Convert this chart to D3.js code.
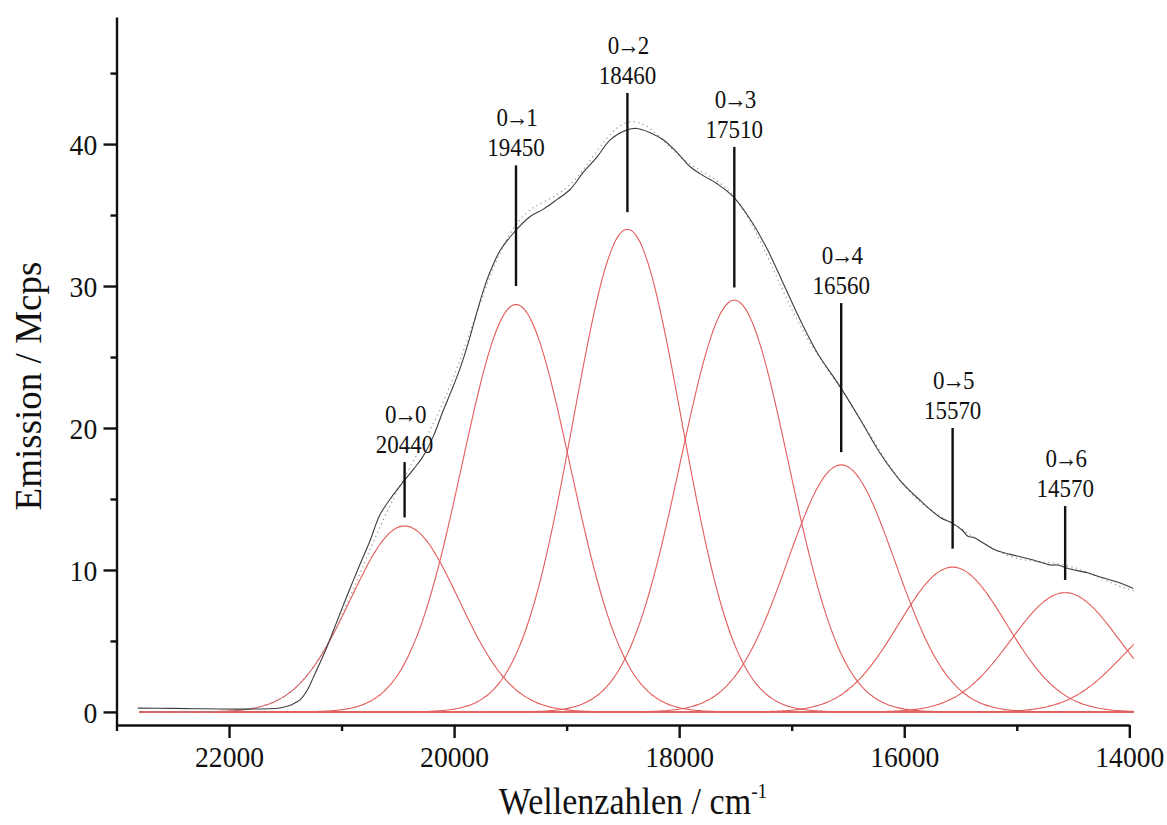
<!DOCTYPE html>
<html><head><meta charset="utf-8">
<script src="https://cdn.jsdelivr.net/npm/d3@7"></script>
<style>
html,body{margin:0;padding:0;background:#fff;}
svg{display:block;font-family:"Liberation Serif","Times New Roman",serif;}
</style></head>
<body><svg id="chart" width="1167" height="825"></svg>
<script>
// ---- data ----
const peakCenters = [20440, 19450, 18460, 17510, 16560, 15570, 14570, 13580];
const peakHeights = [13.1, 28.7, 34.0, 29.0, 17.4, 10.2, 8.4, 6.5];
const peakSigmas  = [480, 480, 480, 480, 480, 480, 480, 480];

const labelTransitions = ["0→0", "0→1", "0→2", "0→3", "0→4", "0→5", "0→6"];
const labelNumbers = ["20440", "19450", "18460", "17510", "16560", "15570", "14570"];
const labelLineTop = [17.6, 38.5, 43.6, 39.8, 28.8, 20.0, 14.5];
const labelLineBottom = [13.7, 30.0, 35.2, 29.9, 18.3, 11.5, 9.3];

const spectrumWavenumber = [22810, 22500, 22200, 21900, 21650, 21550, 21460, 21400, 21369, 21300,
  21253, 21150, 21040, 20940, 20836, 20750, 20658, 20550, 20453, 20360, 20276, 20180, 20098, 20020,
  19947, 19870, 19796, 19735, 19680, 19591, 19476, 19324, 19209, 19084, 18969, 18853, 18729, 18613,
  18462, 18373, 18258, 18142, 18018, 17902, 17813, 17724, 17662, 17520, 17369, 17218, 17076, 16924,
  16773, 16569, 16391, 16213, 16036, 15858, 15680, 15573, 15484, 15431, 15387, 15298, 15191, 15058,
  14853, 14702, 14640, 14542, 14373, 14258, 14107, 13964];
const spectrumEmission = [0.27, 0.25, 0.22, 0.2, 0.22, 0.28, 0.45, 0.7, 0.85, 1.6,
  2.4, 4.2, 6.4, 8.4, 10.4, 12.0, 13.9, 15.2, 16.2, 17.1, 18.0, 19.5, 21.2, 22.7,
  24.2, 26.1, 28.2, 29.8, 31.0, 32.5, 33.7, 34.9, 35.4, 36.1, 36.8, 38.0, 39.1, 40.3,
  41.0, 41.1, 40.8, 40.3, 39.4, 38.4, 37.9, 37.5, 37.2, 36.3, 34.7, 32.6, 30.2, 27.6,
  25.3, 22.9, 20.6, 18.2, 16.3, 14.9, 13.7, 13.3, 12.8, 12.35, 12.3, 11.9, 11.4, 11.1,
  10.7, 10.35, 10.35, 10.1, 9.8, 9.5, 9.15, 8.7];

const xMajorTicks = [22000, 20000, 18000, 16000, 14000];
const xMinorTicks = [23000, 21000, 19000, 17000, 15000];
const yMajorTicks = [0, 10, 20, 30, 40];
const yMinorTicks = [5, 15, 25, 35, 45];

// ---- layout ----
const svg = d3.select("#chart");
const x = d3.scaleLinear().domain([23000, 14000]).range([116.5, 1129.3]);
const y = d3.scaleLinear().domain([-0.92, 48.95]).range([725, 17]);
const textSquish = "scale(0.92,1)";

// sampling grid for the fitted Gaussian components
const grid = d3.range(22800, 13959, -20);
const gauss = (w, i) => peakHeights[i] * Math.exp(-((w - peakCenters[i]) ** 2) / (2 * peakSigmas[i] ** 2));

const line = d3.line().x(d => x(d[0])).y(d => y(d[1])).curve(d3.curveMonotoneX);

const gRed = svg.append("g");
peakCenters.forEach((c, i) => {
  gRed.append("path")
    .datum(grid.map(w => [w, gauss(w, i)]))
    .attr("d", line)
    .attr("fill", "none")
    .attr("stroke", "#e25c5c")
    .attr("stroke-width", 1.1);
});

// cumulative fit (dotted)
svg.append("path")
  .datum(grid.map(w => [w, d3.sum(peakCenters, (c, i) => gauss(w, i))]))
  .attr("d", line)
  .attr("fill", "none")
  .attr("stroke", "#9a9a9a")
  .attr("stroke-width", 1.3)
  .attr("stroke-dasharray", "1.2,3.5");

// measured spectrum
svg.append("path")
  .datum(spectrumWavenumber.map((w, i) => [w, spectrumEmission[i]]))
  .attr("d", d3.line().x(d => x(d[0])).y(d => y(d[1])).curve(d3.curveCatmullRom))
  .attr("fill", "none")
  .attr("stroke", "#3c3c3c")
  .attr("stroke-width", 1.1);

// annotations
const ann = svg.append("g");
labelNumbers.forEach((n, i) => {
  const cx = x(peakCenters[i]);
  const top = y(labelLineTop[i]);
  ann.append("line")
    .attr("x1", cx).attr("x2", cx)
    .attr("y1", top).attr("y2", y(labelLineBottom[i]))
    .attr("stroke", "#111").attr("stroke-width", 2.4);
  ann.append("text")
    .attr("transform", `translate(${cx},${top - 9}) ${textSquish}`)
    .attr("text-anchor", "middle")
    .attr("font-size", 25).attr("fill", "#111")
    .text(n);
  ann.append("text")
    .attr("transform", `translate(${cx},${top - 39}) ${textSquish}`)
    .attr("text-anchor", "middle")
    .attr("font-size", 25).attr("fill", "#111")
    .attr("letter-spacing", -2.5)
    .text(labelTransitions[i]);
});

// axes
const axisColor = "#111";
const gx = svg.append("g").attr("transform", "translate(0,725)")
  .call(d3.axisBottom(x).tickValues(xMajorTicks).tickSize(13).tickSizeOuter(0).tickFormat(d3.format("d")).tickPadding(8));
const gxm = svg.append("g").attr("transform", "translate(0,725)")
  .call(d3.axisBottom(x).tickValues(xMinorTicks).tickSize(6).tickFormat(""));
gxm.select(".domain").remove();
const gy = svg.append("g").attr("transform", "translate(116.5,0)")
  .call(d3.axisLeft(y).tickValues(yMajorTicks).tickSize(13).tickSizeOuter(0).tickPadding(8));
const gym = svg.append("g").attr("transform", "translate(116.5,0)")
  .call(d3.axisLeft(y).tickValues(yMinorTicks).tickSize(6).tickFormat(""));
gym.select(".domain").remove();

[gx, gxm, gy, gym].forEach(g => {
  g.selectAll("path,line").attr("stroke", axisColor).attr("stroke-width", 2.4);
  g.selectAll("text").attr("font-family", "Liberation Serif").attr("font-size", 30).attr("fill", "#111");
});
gx.selectAll(".tick text").attr("transform", textSquish);
gy.selectAll(".tick text").attr("transform", textSquish).attr("dy", "0.34em");

// axis titles
svg.append("text")
  .attr("transform", "translate(41,386) rotate(-90)")
  .attr("text-anchor", "middle")
  .attr("font-size", 37).attr("fill", "#111")
  .text("Emission / Mcps");

const xt = svg.append("text")
  .attr("transform", `translate(633,814) ${textSquish}`)
  .attr("text-anchor", "middle")
  .attr("font-size", 37).attr("fill", "#111");
xt.append("tspan").text("Wellenzahlen / cm");
xt.append("tspan").attr("font-size", 21).attr("dy", -16).text("-1");
</script>
</body></html>
